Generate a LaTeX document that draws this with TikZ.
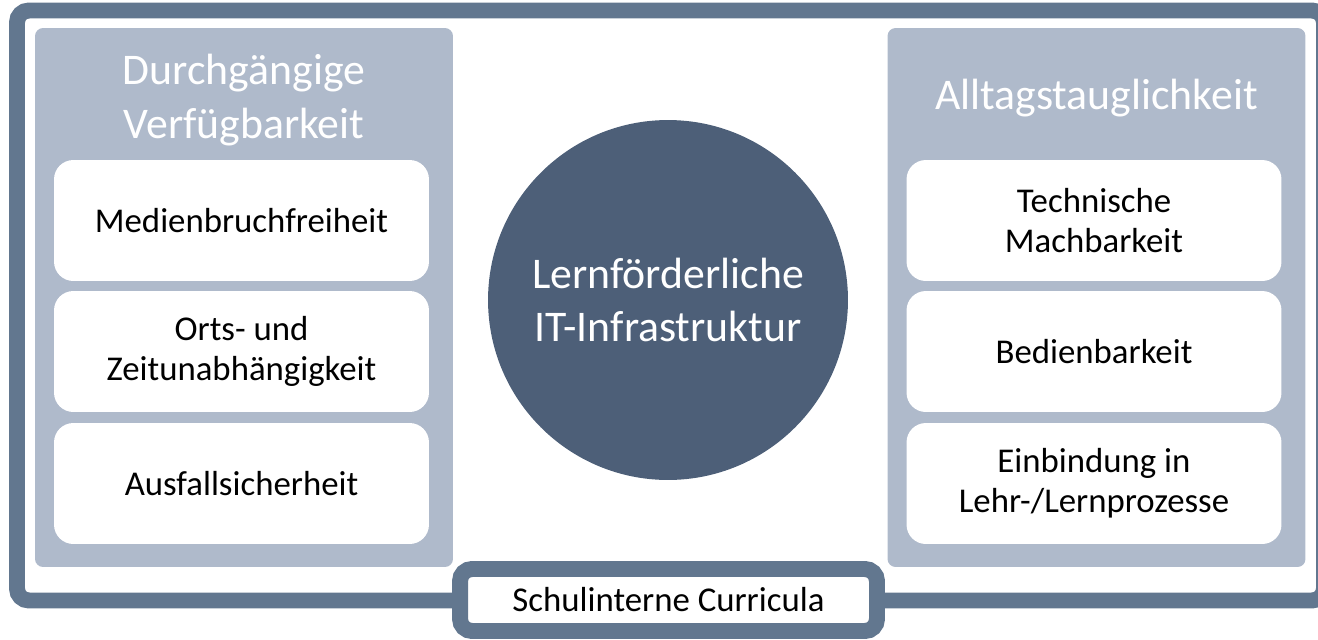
\documentclass[tikz,border=0pt]{standalone}
\usepackage{fontspec}
\setmainfont{Carlito}
\definecolor{rahmenblau}{RGB}{98,119,143}
\definecolor{saeulegrau}{RGB}{175,186,203}
\definecolor{kernblau}{RGB}{77,95,120}
\tikzset{
  saeule/.style={fill=saeulegrau, rounded corners=4.5pt, minimum width=8.36cm, minimum height=10.78cm, inner sep=0pt},
  kachel/.style={fill=white, rounded corners=11pt, minimum width=7.5cm, minimum height=2.42cm, align=center, font=\fontsize{19.8}{22.7}\selectfont},
  titel/.style={text=white, align=center, font=\fontsize{24.9}{30.6}\selectfont},
}
\begin{document}
\begin{tikzpicture}[x=0.02cm,y=-0.02cm]
\useasboundingbox (0,0) rectangle (1318,639);
%\draw[step=50,gray,very thin] (0,0) grid (1318,639);
\draw[rahmenblau,line width=9.07pt,rounded corners=6.8pt] (17,10.5) rectangle (1324,600.5);
% linke Saeule
\node[saeule] (links) at (244,297.5) {};
\node[titel] (linkstitel) at (244,100) {Durchgängige\\Verfügbarkeit};
\node[kachel] (medien) at (241.5,220.5) {Medienbruchfreiheit};
\node[kachel] (orts) at (241.5,351.5) {Orts- und\\Zeitunabhängigkeit};
\node[kachel] (ausfall) at (241.5,483.5) {Ausfallsicherheit};
% rechte Saeule
\node[saeule] (rechts) at (1096.5,297.5) {};
\node[titel] (rechtstitel) at (1096.5,98) {Alltagstauglichkeit};
\node[kachel] (technik) at (1094,220.5) {Technische\\Machbarkeit};
\node[kachel] (bedien) at (1094,351.5) {Bedienbarkeit};
\node[kachel] (einbind) at (1094,483.5) {Einbindung in\\Lehr-/Lernprozesse};
% Mitte
\node[circle,fill=kernblau,minimum size=7.2cm,inner sep=0pt,titel] (kern) at (668,300) {Lernförderliche\\IT-Infrastruktur};
\node[draw=rahmenblau,fill=white,line width=9.07pt,rounded corners=6.8pt,minimum width=8.34cm,minimum height=1.24cm,font=\fontsize{19.8}{22.7}\selectfont] (curricula) at (668.5,600) {Schulinterne Curricula};
\end{tikzpicture}
\end{document}
